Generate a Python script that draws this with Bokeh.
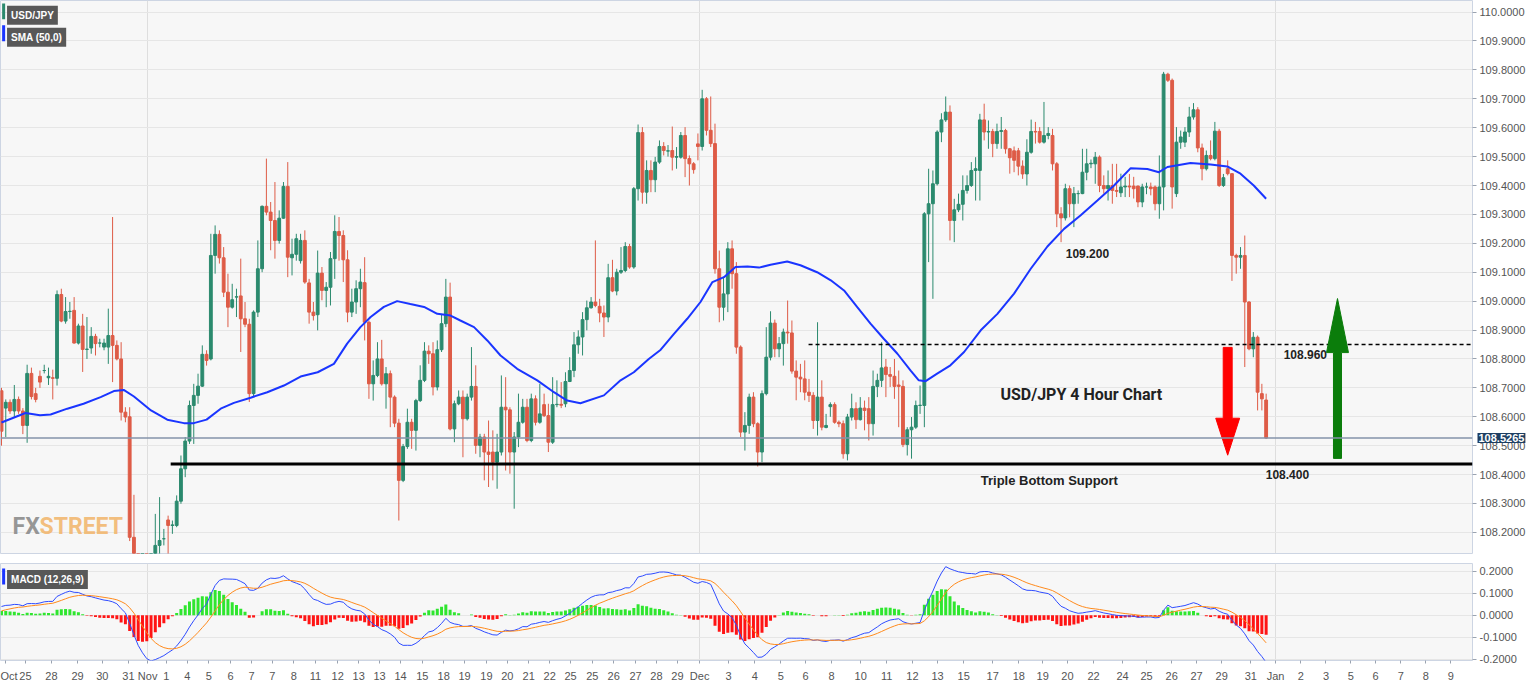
import numpy as np
from bokeh.plotting import figure
from bokeh.layouts import column
from bokeh.models import (FixedTicker, NumeralTickFormatter, Span, Label, Range1d,
                          ColumnDataSource)
from bokeh.embed import file_html
from bokeh.resources import INLINE

# ---------------- data (USD/JPY, 4-hour candles) ----------------
opens = [108.69, 108.63, 108.65, 108.62, 108.66, 108.62, 108.57, 108.75, 108.68, 108.74,
         108.76, 108.735, 108.735, 108.733, 109.023, 108.931, 108.964, 108.968, 108.855, 108.914,
         108.833, 108.838, 108.878, 108.855, 108.841, 108.841, 108.881, 108.847, 108.80, 108.616,
         108.60, 108.183, 108.00, 107.90, 107.93, 107.90, 108.00, 108.155, 108.178, 108.243,
         108.224, 108.224, 108.308, 108.42, 108.516, 108.639, 108.674, 108.706, 108.816, 108.80,
         109.158, 109.231, 109.15, 109.031, 108.979, 109.014, 109.018, 108.939, 108.92, 108.68,
         108.962, 109.112, 109.328, 109.308, 109.279, 109.21, 109.287, 109.397, 109.15, 109.162,
         109.14, 109.21, 109.063, 108.962, 108.953, 109.097, 109.037, 109.048, 109.147, 109.241,
         109.227, 109.143, 108.962, 108.997, 109.043, 109.064, 108.927, 108.714, 108.743, 108.80,
         108.714, 108.749, 108.668, 108.578, 108.38, 108.497, 108.581, 108.553, 108.656, 108.726,
         108.827, 108.818, 108.703, 108.832, 108.922, 109.014, 108.558, 108.645, 108.668, 108.593,
         108.668, 108.705, 108.501, 108.53, 108.478, 108.478, 108.443, 108.478, 108.633, 108.624,
         108.478, 108.53, 108.581, 108.633, 108.518, 108.662, 108.581, 108.642, 108.604, 108.512,
         108.642, 108.643, 108.645, 108.722, 108.76, 108.849, 108.876, 108.936, 108.977, 108.997,
         108.982, 108.959, 108.945, 109.081, 109.035, 109.10, 109.106, 109.189, 109.118, 109.389,
         109.583, 109.377, 109.452, 109.42, 109.481, 109.535, 109.519, 109.521, 109.498, 109.498,
         109.573, 109.493, 109.475, 109.544, 109.535, 109.70, 109.591, 109.545, 109.112, 108.979,
         109.025, 109.181, 109.095, 108.841, 108.547, 108.57, 108.668, 108.576, 108.478, 108.68,
         108.806, 108.924, 108.835, 108.853, 108.893, 108.89, 108.758, 108.737, 108.731, 108.685,
         108.674, 108.587, 108.668, 108.563, 108.635, 108.642, 108.581, 108.576, 108.472, 108.599,
         108.628, 108.59, 108.63, 108.628, 108.576, 108.705, 108.726, 108.772, 108.746, 108.74,
         108.71, 108.705, 108.504, 108.555, 108.564, 108.639, 108.639, 109.302, 109.337, 109.406,
         109.585, 109.627, 109.654, 109.279, 109.316, 109.335, 109.383, 109.40, 109.452, 109.452,
         109.627, 109.585, 109.587, 109.545, 109.587, 109.59, 109.527, 109.52, 109.52, 109.467,
         109.44, 109.515, 109.587, 109.587, 109.55, 109.573, 109.573, 109.475, 109.302, 109.288,
         109.389, 109.337, 109.372, 109.372, 109.446, 109.475, 109.475, 109.498, 109.40, 109.389,
         109.40, 109.383, 109.375, 109.395, 109.398, 109.398, 109.398, 109.343, 109.395, 109.395,
         109.395, 109.337, 109.395, 109.785, 109.764, 109.372, 109.55, 109.55, 109.585, 109.637,
         109.662, 109.53, 109.458, 109.504, 109.493, 109.588, 109.40, 109.458, 109.441, 109.158,
         109.152, 109.158, 108.997, 108.835, 108.875, 108.68, 108.658]
highs = [108.70, 108.66, 108.66, 108.71, 108.67, 108.63, 108.78, 108.77, 108.70, 108.76,
         108.78, 108.77, 108.763, 109.037, 109.043, 109.014, 108.997, 109.014, 108.922, 108.956,
         108.945, 108.91, 108.887, 108.87, 108.87, 108.974, 109.291, 108.864, 108.858, 108.633,
         108.633, 108.33, 108.05, 107.99, 107.97, 108.06, 108.264, 108.322, 108.212, 108.258,
         108.241, 108.328, 108.466, 108.53, 108.656, 108.714, 108.749, 108.847, 108.83, 109.233,
         109.262, 109.245, 109.187, 109.095, 109.06, 109.043, 109.147, 108.997, 108.939, 108.968,
         109.21, 109.331, 109.493, 109.343, 109.412, 109.314, 109.412, 109.481, 109.216, 109.233,
         109.233, 109.245, 109.077, 108.997, 109.175, 109.118, 109.066, 109.170, 109.297, 109.291,
         109.245, 109.176, 109.043, 109.072, 109.112, 109.152, 108.933, 108.795, 108.858, 108.866,
         108.772, 108.76, 108.674, 108.593, 108.506, 108.628, 108.593, 108.662, 108.778, 108.858,
         108.847, 108.858, 108.864, 108.956, 109.077, 109.064, 108.656, 108.691, 108.691, 108.68,
         108.841, 108.778, 108.541, 108.541, 108.587, 108.553, 108.541, 108.743, 108.737, 108.633,
         108.547, 108.68, 108.662, 108.662, 108.68, 108.674, 108.714, 108.68, 108.645, 108.737,
         108.726, 108.72, 108.754, 108.806, 108.893, 108.899, 108.962, 109.002, 109.014, 109.21,
         109.008, 108.985, 109.129, 109.143, 109.112, 109.187, 109.204, 109.198, 109.395, 109.611,
         109.602, 109.487, 109.487, 109.499, 109.556, 109.55, 109.54, 109.604, 109.533, 109.585,
         109.602, 109.504, 109.481, 109.58, 109.731, 109.706, 109.708, 109.614, 109.175, 109.083,
         109.204, 109.21, 109.135, 108.847, 108.616, 108.68, 108.685, 108.581, 108.691, 108.91,
         108.965, 108.936, 108.876, 108.905, 109.002, 108.933, 108.795, 108.783, 108.795, 108.731,
         108.685, 108.927, 108.726, 108.61, 108.65, 108.65, 108.587, 108.587, 108.61, 108.68,
         108.65, 108.668, 108.656, 108.668, 108.76, 108.749, 108.858, 108.80, 108.772, 108.80,
         108.76, 108.726, 108.564, 108.599, 108.656, 108.708, 109.308, 109.458, 109.452, 109.591,
         109.65, 109.708, 109.677, 109.354, 109.372, 109.435, 109.435, 109.481, 109.498, 109.648,
         109.683, 109.625, 109.596, 109.614, 109.637, 109.596, 109.53, 109.535, 109.53, 109.487,
         109.56, 109.628, 109.62, 109.602, 109.689, 109.602, 109.596, 109.481, 109.325, 109.406,
         109.40, 109.395, 109.383, 109.527, 109.527, 109.49, 109.516, 109.504, 109.435, 109.452,
         109.475, 109.475, 109.441, 109.43, 109.44, 109.43, 109.40, 109.406, 109.41, 109.41,
         109.40, 109.504, 109.793, 109.79, 109.77, 109.602, 109.59, 109.602, 109.672, 109.685,
         109.671, 109.545, 109.521, 109.556, 109.62, 109.596, 109.44, 109.487, 109.441, 109.164,
         109.187, 109.227, 109.0, 108.893, 108.881, 108.714, 108.68]
lows = [108.50, 108.53, 108.61, 108.60, 108.61, 108.54, 108.51, 108.66, 108.65, 108.70,
        108.75, 108.71, 108.66, 108.708, 108.927, 108.922, 108.939, 108.853, 108.85, 108.755,
        108.80, 108.818, 108.812, 108.84, 108.83, 108.783, 108.72, 108.795, 108.587, 108.581,
        108.17, 107.95, 107.86, 107.87, 107.86, 107.88, 107.98, 108.10, 108.155, 108.10,
        108.195, 108.218, 108.299, 108.391, 108.506, 108.506, 108.645, 108.703, 108.777, 108.795,
        109.095, 109.13, 109.014, 108.91, 108.974, 108.945, 108.824, 108.91, 108.651, 108.668,
        108.945, 109.10, 109.297, 109.176, 109.147, 109.199, 109.285, 109.083, 109.089, 109.14,
        109.13, 109.06, 108.922, 108.933, 108.899, 109.003, 108.979, 108.985, 109.077, 109.14,
        109.066, 108.927, 108.945, 108.956, 108.979, 108.864, 108.662, 108.656, 108.737, 108.708,
        108.628, 108.564, 108.564, 108.241, 108.374, 108.489, 108.489, 108.483, 108.651, 108.72,
        108.783, 108.674, 108.691, 108.824, 108.91, 108.553, 108.512, 108.64, 108.46, 108.587,
        108.656, 108.472, 108.46, 108.38, 108.357, 108.38, 108.351, 108.466, 108.414, 108.403,
        108.282, 108.495, 108.576, 108.512, 108.512, 108.57, 108.576, 108.599, 108.478, 108.506,
        108.633, 108.63, 108.633, 108.72, 108.737, 108.818, 108.812, 108.899, 108.974, 108.979,
        108.927, 108.876, 108.927, 109.031, 109.02, 109.094, 109.10, 109.112, 109.112, 109.348,
        109.337, 109.337, 109.377, 109.377, 109.475, 109.504, 109.50, 109.452, 109.458, 109.493,
        109.429, 109.40, 109.441, 109.487, 109.521, 109.573, 109.533, 109.095, 108.927, 108.933,
        108.962, 109.043, 108.818, 108.53, 108.483, 108.541, 108.564, 108.428, 108.443, 108.674,
        108.795, 108.806, 108.806, 108.777, 108.853, 108.749, 108.657, 108.685, 108.657, 108.651,
        108.558, 108.535, 108.553, 108.56, 108.60, 108.576, 108.564, 108.455, 108.449, 108.587,
        108.558, 108.587, 108.553, 108.518, 108.535, 108.668, 108.703, 108.668, 108.703, 108.662,
        108.564, 108.495, 108.466, 108.455, 108.558, 108.61, 108.564, 109.135, 109.008, 109.40,
        109.55, 109.62, 109.21, 109.204, 109.308, 109.279, 109.372, 109.395, 109.348, 109.348,
        109.556, 109.527, 109.498, 109.527, 109.527, 109.51, 109.441, 109.446, 109.435, 109.423,
        109.40, 109.51, 109.545, 109.545, 109.545, 109.56, 109.452, 109.256, 109.204, 109.279,
        109.29, 109.256, 109.337, 109.37, 109.418, 109.46, 109.406, 109.377, 109.372, 109.348,
        109.337, 109.36, 109.36, 109.36, 109.36, 109.355, 109.325, 109.325, 109.37, 109.366,
        109.314, 109.285, 109.314, 109.758, 109.32, 109.36, 109.527, 109.533, 109.568, 109.628,
        109.515, 109.418, 109.452, 109.487, 109.487, 109.395, 109.395, 109.435, 109.07, 109.095,
        109.112, 108.772, 108.83, 108.806, 108.622, 108.622, 108.523]
closes = [108.55, 108.65, 108.62, 108.66, 108.62, 108.57, 108.75, 108.67, 108.66, 108.72,
          108.76, 108.74, 108.733, 109.023, 108.931, 108.964, 108.965, 108.855, 108.914, 108.833,
          108.834, 108.878, 108.853, 108.855, 108.855, 108.881, 108.847, 108.80, 108.616, 108.599,
          108.183, 108.00, 107.90, 107.93, 107.90, 108.00, 108.155, 108.172, 108.178, 108.224,
          108.226, 108.308, 108.42, 108.516, 108.639, 108.674, 108.706, 108.816, 108.795, 109.158,
          109.231, 109.15, 109.031, 108.979, 109.005, 109.015, 108.939, 108.92, 108.68, 108.962,
          109.112, 109.328, 109.308, 109.279, 109.21, 109.287, 109.397, 109.152, 109.162, 109.216,
          109.21, 109.066, 108.962, 108.95, 109.097, 109.037, 109.048, 109.147, 109.241, 109.227,
          109.143, 108.962, 108.997, 109.043, 109.066, 108.927, 108.714, 108.743, 108.80, 108.714,
          108.749, 108.668, 108.578, 108.38, 108.497, 108.581, 108.553, 108.656, 108.726, 108.827,
          108.818, 108.703, 108.832, 108.922, 109.014, 108.558, 108.645, 108.668, 108.593, 108.668,
          108.705, 108.501, 108.53, 108.478, 108.47, 108.443, 108.478, 108.633, 108.624, 108.478,
          108.53, 108.581, 108.633, 108.518, 108.662, 108.581, 108.61, 108.604, 108.512, 108.642,
          108.643, 108.64, 108.722, 108.76, 108.849, 108.876, 108.936, 108.977, 108.997, 108.985,
          108.959, 108.945, 109.081, 109.035, 109.10, 109.106, 109.189, 109.118, 109.389, 109.583,
          109.377, 109.452, 109.42, 109.481, 109.535, 109.521, 109.52, 109.498, 109.50, 109.573,
          109.493, 109.475, 109.455, 109.535, 109.70, 109.591, 109.545, 109.112, 108.979, 109.025,
          109.181, 109.095, 108.841, 108.547, 108.57, 108.668, 108.576, 108.478, 108.68, 108.806,
          108.924, 108.835, 108.853, 108.893, 108.89, 108.758, 108.737, 108.731, 108.685, 108.674,
          108.587, 108.668, 108.564, 108.57, 108.642, 108.581, 108.576, 108.472, 108.599, 108.628,
          108.59, 108.63, 108.622, 108.576, 108.705, 108.726, 108.769, 108.746, 108.74, 108.705,
          108.705, 108.504, 108.555, 108.564, 108.639, 108.64, 109.302, 109.337, 109.406, 109.585,
          109.627, 109.654, 109.279, 109.316, 109.335, 109.383, 109.40, 109.452, 109.458, 109.627,
          109.585, 109.587, 109.545, 109.587, 109.59, 109.527, 109.496, 109.487, 109.467, 109.44,
          109.515, 109.587, 109.585, 109.55, 109.573, 109.58, 109.475, 109.302, 109.288, 109.389,
          109.337, 109.372, 109.372, 109.446, 109.475, 109.477, 109.498, 109.40, 109.389, 109.40,
          109.383, 109.38, 109.395, 109.398, 109.395, 109.389, 109.343, 109.395, 109.395, 109.389,
          109.337, 109.395, 109.785, 109.764, 109.395, 109.55, 109.568, 109.585, 109.637, 109.662,
          109.53, 109.458, 109.504, 109.493, 109.588, 109.40, 109.427, 109.441, 109.158, 109.152,
          109.158, 108.997, 108.835, 108.875, 108.685, 108.662, 108.5265]

# SMA(50) (candle index, value)
sma_idx = [0, 5.6, 9, 11.5, 15.4, 19.2, 23.2, 26.3, 28.6, 31, 35, 38.8, 42.7, 45, 48, 51.3,
           54.4, 58.3, 62.2, 66.1, 70, 74, 77.8, 80.9, 84, 86.4, 89.5, 92.6, 95.7, 98.9, 102,
           105.1, 107.4, 110.6, 113.7, 116.8, 120.7, 125.4, 129.3, 132.4, 135.5, 141, 144.9,
           148, 151.5, 154.3, 157.4, 160.5, 163.6, 166.4, 169.1, 171.8, 174.6, 177.3, 180,
           183.9, 187, 190.9, 194.1, 197.2, 200.3, 203.4, 206.5, 209.7, 212.8, 214.7, 216.3,
           219, 222.1, 225.3, 229.2, 233.1, 237, 240.9, 244.8, 248.7, 252.6, 256.5, 260.4,
           264.3, 268.2, 270.9, 272.9, 278.3, 283, 286.9, 290, 293.1, 296]
sma_val = [108.58, 108.613, 108.605, 108.608, 108.628, 108.645, 108.668, 108.689, 108.693,
           108.67, 108.622, 108.59, 108.578, 108.578, 108.59, 108.628, 108.648, 108.666,
           108.685, 108.708, 108.739, 108.754, 108.783, 108.853, 108.91, 108.945, 108.98, 109.0,
           108.99, 108.98, 108.956, 108.95, 108.933, 108.91, 108.864, 108.812, 108.766, 108.726,
           108.685, 108.656, 108.647, 108.674, 108.726, 108.754, 108.80, 108.832, 108.887,
           108.939, 108.997, 109.066, 109.083, 109.118, 109.12, 109.116, 109.126, 109.137,
           109.124, 109.1, 109.072, 109.037, 108.979, 108.922, 108.87, 108.818, 108.76, 108.726,
           108.723, 108.749, 108.778, 108.824, 108.899, 108.956, 109.026, 109.112, 109.189,
           109.25, 109.297, 109.348, 109.4, 109.46, 109.457, 109.446, 109.464, 109.478, 109.473,
           109.466, 109.441, 109.4, 109.354]

tick_labels = ["Oct", "25", "28", "29", "30", "31",
               "Nov", "1", "4", "5", "6", "7", "7", "8", "11", "12", "13", "13", "14", "15",
               "18", "19", "19", "20", "21", "22", "25", "25", "26", "27", "28", "29",
               "Dec", "3", "4", "5", "6", "8", "10", "11", "12", "13", "15", "17", "18", "19",
               "20", "22", "24", "25", "26", "27", "29", "31",
               "Jan", "2", "3", "5", "6", "7", "8", "9"]
tick_idx = [1.0, 5.6, 11.7, 17.8, 23.6, 29.7,
            34.2, 38.6, 43.5, 48.5, 53.6, 58.5, 63.4, 68.4, 73.5, 78.7, 83.6, 88.5, 93.4, 98.5,
            103.5, 108.4, 113.5, 118.4, 123.4, 128.3, 133.2, 138.3, 143.3, 148.4, 153.3, 158.2,
            163.4, 170.2, 176.3, 182.4, 188.2, 194.3, 201.1, 207.2, 213.2, 219.1, 225.2, 232.0,
            238.1, 243.7, 249.5, 255.6, 262.4, 268.0, 273.9, 279.7, 285.6, 292.4,
            298.2, 304.1, 310.0, 315.8, 321.6, 327.5, 333.4, 339.2]

last_price = 108.5265
support_level = 108.437
resistance_level = 108.85
macd_start = 0.04
signal_start = 0.02

# ---------------- colours ----------------
UP = "#2b8a6e"
DOWN = "#de5c47"
FONT = "Liberation Sans"

# ---------------- derived ----------------
n = len(closes)
idx = np.arange(n)
o = np.array(opens); h = np.array(highs); lo = np.array(lows); c = np.array(closes)
src = ColumnDataSource(dict(x=idx, h=h, l=lo, top=np.maximum(o, c), bottom=np.minimum(o, c),
                            color=[UP if cc >= oo else DOWN for oo, cc in zip(o, c)]))

e12 = c[0]; e26 = c[0] - macd_start; s = signal_start
macd_vals, sig_vals = [], []
for k, price in enumerate(c):
    if k > 0:
        e12 += (price - e12) * 2 / 13
        e26 += (price - e26) * 2 / 27
    mv = e12 - e26
    if k > 0:
        s += (mv - s) * 2 / 10
    macd_vals.append(mv); sig_vals.append(s)
macd_vals = np.array(macd_vals); sig_vals = np.array(sig_vals)
hist = macd_vals - sig_vals
hsrc = ColumnDataSource(dict(x=idx, top=hist,
                             color=["#2fe62f" if v >= 0 else "#ff1414" for v in hist]))

month_idx = [t for t, l in zip(tick_idx, tick_labels) if l in ("Nov", "Dec", "Jan")]

XR = Range1d(-0.234, 344.3)
FW = 1472


def style_y(ax):
    ax.axis_line_color = None
    ax.major_tick_out = 4
    ax.major_tick_in = 0
    ax.major_tick_line_color = "#9aa3b0"
    ax.minor_tick_line_color = None
    ax.major_label_text_color = "#555555"
    ax.major_label_text_font_size = "11px"
    ax.major_label_text_font = FONT
    ax.major_label_standoff = 3


# ---------------- main price panel ----------------
p = figure(frame_width=FW, frame_height=553, x_range=XR, y_range=Range1d(108.127, 110.04),
           y_axis_location="right", output_backend="svg", toolbar_location=None,
           min_border_left=0, min_border_top=0, min_border_bottom=0, min_border_right=0,
           background_fill_color="#f7f7f7", border_fill_color="#ffffff",
           outline_line_color="#cdd5e3")
p.xaxis.visible = False
p.yaxis.ticker = FixedTicker(ticks=[round(108.2 + 0.1 * k, 1) for k in range(19)])
p.yaxis.formatter = NumeralTickFormatter(format="0.0000")
style_y(p.yaxis[0])
p.ygrid.grid_line_color = "#e6e6e6"
p.xgrid.ticker = FixedTicker(ticks=month_idx)
p.xgrid.grid_line_color = "#dedede"

p.segment('x', 'h', 'x', 'l', color='color', line_width=1, source=src)
p.vbar(x='x', width=0.66, top='top', bottom='bottom', fill_color='color', line_color='color',
       line_width=1, source=src)
p.line(sma_idx, sma_val, color="#1a35ff", line_width=2)

p.add_layout(Span(location=last_price, dimension="width", line_color="#8593aa", line_width=1.5))
p.segment(x0=[188.9], y0=[resistance_level], x1=[344.3], y1=[resistance_level],
          color="black", line_width=1.5, line_dash="4 3")
p.segment(x0=[39.6], y0=[support_level], x1=[344.3], y1=[support_level],
          color="black", line_width=3)

# arrows
rx, gx = 287.0, 312.7
p.patch([rx - 1.05, rx + 1.05, rx + 1.05, rx + 2.8, rx, rx - 2.8, rx - 1.05],
        [108.840, 108.840, 108.595, 108.595, 108.467, 108.595, 108.595],
        fill_color="#ff0000", line_color="#ff0000")
p.patch([gx - 0.94, gx + 0.94, gx + 0.94, gx + 2.57, gx, gx - 2.57, gx - 0.94],
        [108.456, 108.456, 108.822, 108.822, 109.009, 108.822, 108.822],
        fill_color="#0b7d0b", line_color="#0b7d0b")


def mk(x, y, t, size="12px", color="#222222", bold=True, font=FONT, align="left",
       base="middle", **kw):
    return Label(x=x, y=y, text=t, text_font_size=size, text_color=color,
                 text_font_style="bold" if bold else "normal", text_font=font,
                 text_align=align, text_baseline=base, **kw)


p.add_layout(mk(249.1, 109.165, "109.200"))
p.add_layout(mk(300.1, 108.815, "108.960"))
p.add_layout(mk(295.9, 108.400, "108.400"))
p.add_layout(mk(233.8, 108.677, "USD/JPY 4 Hour Chart", size="16px", font="Roboto"))
p.add_layout(mk(229.2, 108.380, "Triple Bottom Support", size="13px"))
p.add_layout(mk(2.6, 108.172, "FX", size="23px", color="#858585", font="Roboto",
                base="bottom", text_alpha=0.85))
p.add_layout(mk(8.9, 108.172, "STREET", size="23px", color="#f2b468", font="Roboto",
                base="bottom", text_alpha=0.85))

p.add_layout(mk(1.3, 110.022, "USD/JPY", size="10px", color="white", base="top",
                background_fill_color="#585858", padding=4))
p.add_layout(mk(1.3, 109.946, "SMA (50,0)", size="10px", color="white", base="top",
                background_fill_color="#585858", padding=4))
p.segment(x0=[0.5, 0.5], y0=[110.030, 109.954], x1=[0.5, 0.5], y1=[109.975, 109.899],
          color=["#2b8a6e", "#1a35ff"], line_width=3)

# current-price tag over the price axis (side panel so it is not clipped to the frame)
p.add_layout(mk(344.3, last_price, "108.5265", size="11px", color="white", x_offset=5,
                background_fill_color="#1e3f63", padding=1), "below")

# ---------------- MACD panel ----------------
m = figure(frame_width=FW, frame_height=97, x_range=XR, y_range=Range1d(-0.205, 0.235),
           y_axis_location="right", output_backend="svg", toolbar_location=None,
           min_border_left=0, min_border_top=0, min_border_bottom=0, min_border_right=0,
           background_fill_color="#f7f7f7", border_fill_color="#ffffff",
           outline_line_color="#cdd5e3")
m.yaxis.ticker = FixedTicker(ticks=[-0.2, -0.1, 0.0, 0.1, 0.2])
m.yaxis.formatter = NumeralTickFormatter(format="0.0000")
style_y(m.yaxis[0])
m.ygrid.grid_line_color = "#e6e6e6"
m.xgrid.ticker = FixedTicker(ticks=month_idx)
m.xgrid.grid_line_color = "#dedede"

xa = m.xaxis[0]
xa.ticker = FixedTicker(ticks=tick_idx)
xa.major_label_overrides = {t: l for t, l in zip(tick_idx, tick_labels)}
xa.axis_line_color = None
xa.major_tick_out = 3
xa.major_tick_in = 0
xa.major_tick_line_color = "#9aa3b0"
xa.minor_tick_line_color = None
xa.major_label_text_color = "#555555"
xa.major_label_text_font_size = "11px"
xa.major_label_text_font = FONT
xa.major_label_standoff = 6

m.vbar(x='x', width=0.7, top='top', bottom=0, fill_color='color', line_color=None, source=hsrc)
m.line(idx, macd_vals, color="#2f4cff", line_width=1)
m.line(idx, sig_vals, color="#ff8a1c", line_width=1)

m.add_layout(mk(1.3, 0.205, "MACD (12,26,9)", size="10px", color="white", base="top",
                background_fill_color="#585858", padding=4))
m.segment(x0=[0.5], y0=[0.212], x1=[0.5], y1=[0.14], color="#1a35ff", line_width=3)

layout = column(p, m, spacing=0)
open("out.html", "w").write(file_html(layout, INLINE))
